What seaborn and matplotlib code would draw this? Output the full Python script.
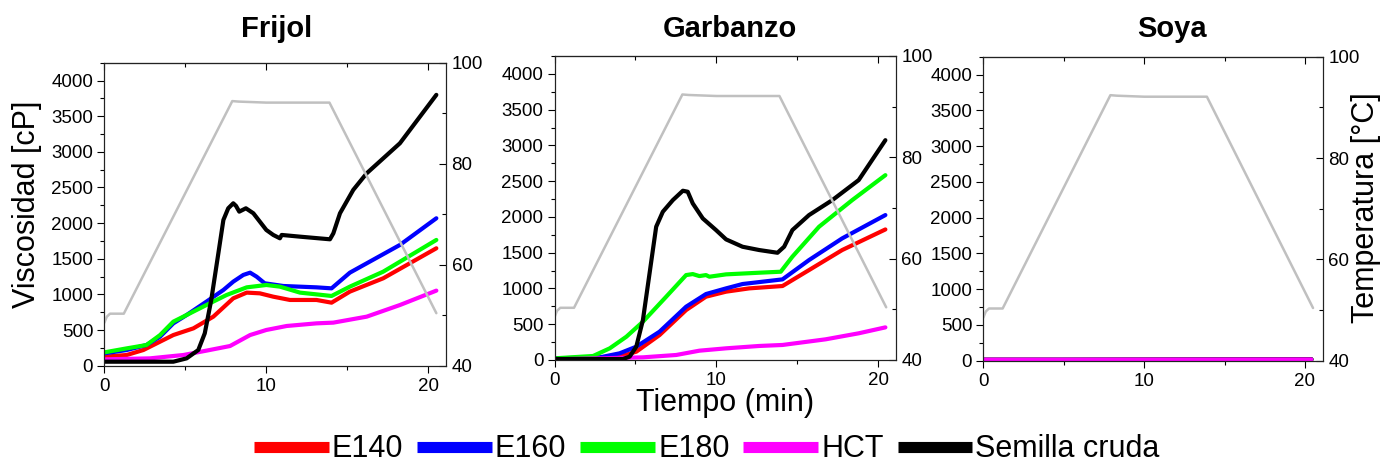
import matplotlib
matplotlib.use("Agg")
import matplotlib.pyplot as plt
from matplotlib.lines import Line2D
from matplotlib.ticker import MultipleLocator
import pandas as pd
import seaborn as sns

# perfil de temperatura (compartido por los tres paneles)
temp_t = [0, 0.15, 0.35, 1.2, 7.9, 8.3, 10.0, 13.9, 20.5]
temp_v = [48.5, 49.7, 50.3, 50.3, 92.4, 92.3, 92.1, 92.1, 50.4]

# Frijol
fri_cruda_t = [0, 4.26, 5.08, 5.8, 6.2, 6.6, 7.04, 7.35, 7.65, 7.96, 8.13, 8.33, 8.74, 9.2, 9.6,
               10.0, 10.43, 10.84, 10.95, 12.08, 13.93, 14.14, 14.55, 15.37, 16.2, 18.25, 20.5]
fri_cruda_v = [56, 56, 103, 220, 454, 922, 1577, 2044, 2208, 2278, 2241, 2161, 2208, 2138, 2021,
               1904, 1834, 1787, 1834, 1810, 1773, 1857, 2138, 2466, 2699, 3120, 3799]
fri_e160_t = [0, 1.38, 2.6, 3.44, 4.26, 5.08, 6.3, 7.35, 7.96, 8.58, 9.0, 9.4, 9.9, 11.05, 13.1,
              14.03, 15.16, 16.2, 18.25, 20.5]
fri_e160_v = [173, 220, 290, 407, 594, 711, 898, 1062, 1179, 1273, 1305, 1249, 1156, 1118, 1099,
              1085, 1305, 1436, 1694, 2068]
fri_e180_t = [0, 1.38, 2.6, 3.44, 4.26, 5.08, 6.3, 7.55, 8.79, 10.0, 10.84, 12.08, 14.03, 15.16,
              17.22, 20.5]
fri_e180_v = [187, 243, 290, 430, 618, 711, 851, 992, 1099, 1132, 1109, 1025, 978, 1109, 1319, 1764]
fri_e140_t = [0, 1.38, 2.41, 3.44, 4.26, 5.5, 6.73, 7.96, 8.79, 9.6, 10.43, 11.46, 13.1, 14.03,
              15.16, 17.22, 20.5]
fri_e140_v = [126, 150, 220, 337, 430, 524, 688, 945, 1025, 1015, 968, 922, 922, 884, 1039, 1226, 1647]
fri_hct_t = [0, 2.82, 4.88, 6.3, 7.76, 9.0, 10.0, 11.26, 13.1, 14.14, 16.2, 18.25, 20.5]
fri_hct_v = [89, 103, 150, 211, 276, 430, 501, 557, 594, 604, 688, 851, 1053]

# Garbanzo
gar_cruda_t = [0, 4.23, 4.64, 5.05, 5.46, 5.87, 6.28, 6.69, 7.31, 7.93, 8.23, 8.54, 9.16, 9.98,
               10.6, 11.62, 12.65, 13.78, 14.19, 14.7, 15.73, 17.17, 18.8, 20.45]
gar_cruda_v = [14, 14, 47, 186, 559, 1211, 1863, 2072, 2235, 2366, 2352, 2189, 1979, 1816,
               1686, 1583, 1537, 1499, 1583, 1816, 2026, 2235, 2515, 3073]
gar_e180_t = [0, 2.38, 3.41, 4.44, 5.46, 6.9, 8.13, 8.54, 8.95, 9.36, 9.57, 10.6, 12.65, 13.98,
              14.7, 16.35, 18.4, 20.45]
gar_e180_v = [23, 56, 163, 326, 535, 885, 1187, 1201, 1173, 1187, 1164, 1197, 1220, 1234,
              1444, 1863, 2235, 2584]
gar_e160_t = [0, 2.8, 4.02, 5.05, 6.49, 8.13, 9.36, 10.6, 11.62, 14.09, 15.73, 17.78, 20.45]
gar_e160_v = [23, 37, 93, 186, 396, 745, 922, 1001, 1062, 1127, 1397, 1700, 2026]
gar_e140_t = [0, 4.02, 5.05, 6.49, 8.13, 9.36, 10.6, 12.03, 14.09, 15.73, 17.78, 20.45]
gar_e140_v = [14, 47, 116, 349, 698, 885, 955, 1001, 1034, 1257, 1537, 1825]
gar_hct_t = [0, 5.46, 7.52, 8.95, 10.6, 12.65, 14.09, 16.76, 18.8, 20.45]
gar_hct_v = [9, 37, 70, 130, 163, 196, 210, 289, 373, 456]

# Soya (todas las curvas pegadas a cero)
soy_t = [0, 5, 10, 15, 20.4]
soy_e140_v = [12, 12, 14, 16, 18]
soy_e160_v = [12, 12, 13, 15, 17]
soy_e180_v = [12, 12, 13, 16, 18]
soy_cruda_v = [12, 12, 14, 17, 19]
soy_hct_v = [15, 15, 16, 17, 18]

series_names = ["E140", "E160", "E180", "HCT", "Semilla cruda"]
series_colors = ["#ff0000", "#0000ff", "#00ff00", "#ff00ff", "#000000"]

panels = [
    ("Frijol", [(fri_e140_t, fri_e140_v), (fri_e160_t, fri_e160_v), (fri_e180_t, fri_e180_v),
                (fri_hct_t, fri_hct_v), (fri_cruda_t, fri_cruda_v)]),
    ("Garbanzo", [(gar_e140_t, gar_e140_v), (gar_e160_t, gar_e160_v), (gar_e180_t, gar_e180_v),
                  (gar_hct_t, gar_hct_v), (gar_cruda_t, gar_cruda_v)]),
    ("Soya", [(soy_t, soy_e140_v), (soy_t, soy_e160_v), (soy_t, soy_e180_v),
              (soy_t, soy_cruda_v), (soy_t, soy_hct_v)]),
]
soya_colors = ["#ff0000", "#0000ff", "#00ff00", "#000000", "#ff00ff"]

sns.set_style("ticks")
plt.rcParams["font.family"] = ["Liberation Sans", "DejaVu Sans"]
plt.rcParams["text.color"] = "black"
plt.rcParams["xtick.color"] = "black"
plt.rcParams["ytick.color"] = "black"
plt.rcParams["axes.edgecolor"] = "#222222"

fig = plt.figure(figsize=(13.97, 4.68), dpi=100)

# posiciones de los ejes (fracciones de figura)
boxes = [
    [0.0747, 0.2186, 0.2446, 0.6474],
    [0.3970, 0.2308, 0.2443, 0.6496],
    [0.7039, 0.2293, 0.2429, 0.6496],
]
title_x = [277, 730, 1172]
main_axes = []

for i, (name, curves) in enumerate(panels):
    ax = fig.add_axes(boxes[i])
    main_axes.append(ax)
    colors = soya_colors if name == "Soya" else series_colors
    for (t, v), c in zip(curves, colors):
        df = pd.DataFrame({"t": t, "v": v})
        sns.lineplot(data=df, x="t", y="v", ax=ax, color=c, linewidth=3.0,
                     errorbar=None, legend=False)
    ax.set_xlim(0, 21.1)
    ax.set_ylim(0, 4250)
    ax.xaxis.set_major_locator(MultipleLocator(10))
    ax.xaxis.set_minor_locator(MultipleLocator(5))
    ax.yaxis.set_major_locator(MultipleLocator(500))
    ax.yaxis.set_minor_locator(MultipleLocator(250))
    ax.tick_params(axis="y", which="major", direction="out", length=5, width=0.8,
                   labelsize=13.5, pad=3)
    ax.tick_params(axis="y", which="minor", direction="out", length=3, width=0.8)
    ax.tick_params(axis="x", which="major", direction="out", length=5, width=0.8,
                   labelsize=13.5, pad=4, top=False)
    ax.tick_params(axis="x", which="minor", direction="out", length=3, width=0.8, top=False)
    ax.set_xlabel("")
    ax.set_ylabel("")
    for s in ax.spines.values():
        s.set_linewidth(0.8)

    # ticks del borde superior hacia dentro
    secx = ax.secondary_xaxis("top")
    secx.xaxis.set_major_locator(MultipleLocator(10))
    secx.xaxis.set_minor_locator(MultipleLocator(5))
    secx.tick_params(axis="x", which="major", direction="in", length=5, width=0.8,
                     labeltop=False)
    secx.tick_params(axis="x", which="minor", direction="in", length=3, width=0.8)
    secx.spines["top"].set_linewidth(0.8)

    # eje de temperatura
    ax2 = ax.twinx()
    tdf = pd.DataFrame({"t": temp_t, "T": temp_v})
    sns.lineplot(data=tdf, x="t", y="T", ax=ax2, color="#c0c0c0", linewidth=1.8,
                 errorbar=None, legend=False)
    ax2.set_ylim(40, 100)
    ax2.yaxis.set_major_locator(MultipleLocator(20))
    ax2.yaxis.set_minor_locator(MultipleLocator(10))
    ax2.tick_params(axis="y", which="major", direction="in", length=5, width=0.8,
                    labelsize=13.5, pad=4)
    ax2.tick_params(axis="y", which="minor", direction="in", length=3, width=0.8)
    ax2.set_ylabel("")
    ax2.set_xlabel("")
    for s in ax2.spines.values():
        s.set_linewidth(0.8)

    fig.text(title_x[i] / 1397, (468 - 37) / 468, name, ha="center", va="baseline",
             fontsize=21, fontweight="bold")

fig.text(27 / 1397, 1 - 204 / 468, "Viscosidad [cP]", rotation=90, ha="center",
         va="center", fontsize=22)
fig.text(1366 / 1397, 1 - 208 / 468, "Temperatura [°C]", rotation=90, ha="center",
         va="center", fontsize=22)
fig.text(725 / 1397, (468 - 411) / 468, "Tiempo (min)", ha="center", va="baseline",
         fontsize=22)

handles = [Line2D([0], [0], color=c, linewidth=8, solid_capstyle="butt")
           for c in series_colors]
fig.legend(handles, series_names, loc="center", bbox_to_anchor=(0.506, 0.04), ncol=5,
           frameon=False, fontsize=22, handlelength=2.45, handletextpad=0.1,
           columnspacing=0.45, borderaxespad=0, borderpad=0)

fig.savefig("out.png", dpi=100)
